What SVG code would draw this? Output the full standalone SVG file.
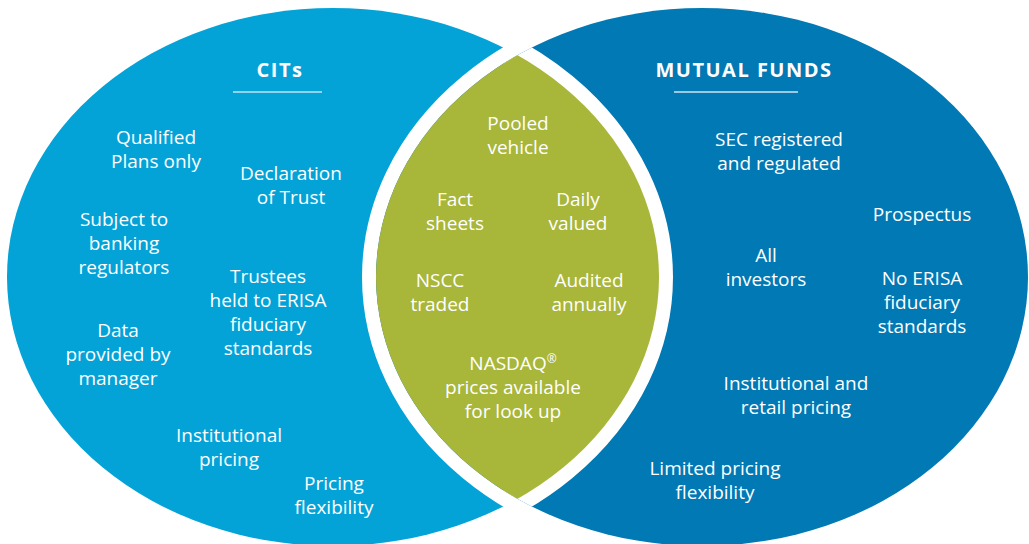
<svg xmlns="http://www.w3.org/2000/svg" width="1029" height="544" viewBox="0 0 1029 544">
<style>
.shape{stroke:#fff;stroke-width:28;paint-order:stroke fill}
.t{font-family:"Open Sans","Noto Sans","Liberation Sans",sans-serif;font-size:19px;fill:#fff;text-anchor:middle}
.h{font-family:"Open Sans","Noto Sans","Liberation Sans",sans-serif;font-size:20px;font-weight:700;fill:#fff;text-anchor:middle;letter-spacing:1.5px}
.rule{stroke:#8fd3f0;stroke-width:2}
.rule2{stroke:#9cc9e2;stroke-width:2}
</style>
<defs>
<clipPath id="clipR"><ellipse cx="702" cy="277" rx="326" ry="269"/></clipPath>
</defs>
<rect width="1029" height="544" fill="#fff"/>
<g id="cits-set">
<ellipse class="shape" cx="333" cy="277" rx="326" ry="269" fill="#03a3d8"/>
</g>
<g id="mf-set">
<ellipse class="shape" cx="702" cy="277" rx="326" ry="269" fill="#0079b4"/>
</g>
<g id="overlap" clip-path="url(#clipR)">
<ellipse class="shape" cx="333" cy="277" rx="326" ry="269" fill="#a8b63a"/>
</g>
<g id="connectors"></g>
<g id="cits-title">
<text class="h" x="280" y="77">CITs</text>
<line class="rule" x1="233" y1="92" x2="322" y2="92"/>
</g>
<g id="mf-title">
<text class="h" x="744" y="77" letter-spacing="2">MUTUAL FUNDS</text>
<line class="rule2" x1="674" y1="92" x2="798" y2="92"/>
</g>
<g id="qualified"><text class="t" x="156" y="144">Qualified</text><text class="t" x="156" y="168">Plans only</text></g>
<g id="declaration"><text class="t" x="291" y="180">Declaration</text><text class="t" x="291" y="204">of Trust</text></g>
<g id="subject"><text class="t" x="124" y="226">Subject to</text><text class="t" x="124" y="250">banking</text><text class="t" x="124" y="274">regulators</text></g>
<g id="trustees"><text class="t" x="268" y="283">Trustees</text><text class="t" x="268" y="307">held to ERISA</text><text class="t" x="268" y="331">fiduciary</text><text class="t" x="268" y="355">standards</text></g>
<g id="data"><text class="t" x="118" y="337">Data</text><text class="t" x="118" y="361">provided by</text><text class="t" x="118" y="385">manager</text></g>
<g id="inst-pricing"><text class="t" x="229" y="442">Institutional</text><text class="t" x="229" y="466">pricing</text></g>
<g id="pricing-flex"><text class="t" x="334" y="490">Pricing</text><text class="t" x="334" y="514">flexibility</text></g>
<g id="pooled"><text class="t" x="518" y="130">Pooled</text><text class="t" x="518" y="154">vehicle</text></g>
<g id="fact"><text class="t" x="455" y="206">Fact</text><text class="t" x="455" y="230">sheets</text></g>
<g id="daily"><text class="t" x="578" y="206">Daily</text><text class="t" x="578" y="230">valued</text></g>
<g id="nscc"><text class="t" x="440" y="287">NSCC</text><text class="t" x="440" y="311">traded</text></g>
<g id="audited"><text class="t" x="589" y="287">Audited</text><text class="t" x="589" y="311">annually</text></g>
<g id="nasdaq"><text class="t" x="513" y="370">NASDAQ<tspan font-size="12" dy="-7">®</tspan></text><text class="t" x="513" y="394">prices available</text><text class="t" x="513" y="418">for look up</text></g>
<g id="sec"><text class="t" x="779" y="146">SEC registered</text><text class="t" x="779" y="170">and regulated</text></g>
<g id="prospectus"><text class="t" x="922" y="221">Prospectus</text></g>
<g id="all-investors"><text class="t" x="766" y="262">All</text><text class="t" x="766" y="286">investors</text></g>
<g id="no-erisa"><text class="t" x="922" y="285">No ERISA</text><text class="t" x="922" y="309">fiduciary</text><text class="t" x="922" y="333">standards</text></g>
<g id="inst-retail"><text class="t" x="796" y="390">Institutional and</text><text class="t" x="796" y="414">retail pricing</text></g>
<g id="limited"><text class="t" x="715" y="475">Limited pricing</text><text class="t" x="715" y="499">flexibility</text></g>
</svg>
